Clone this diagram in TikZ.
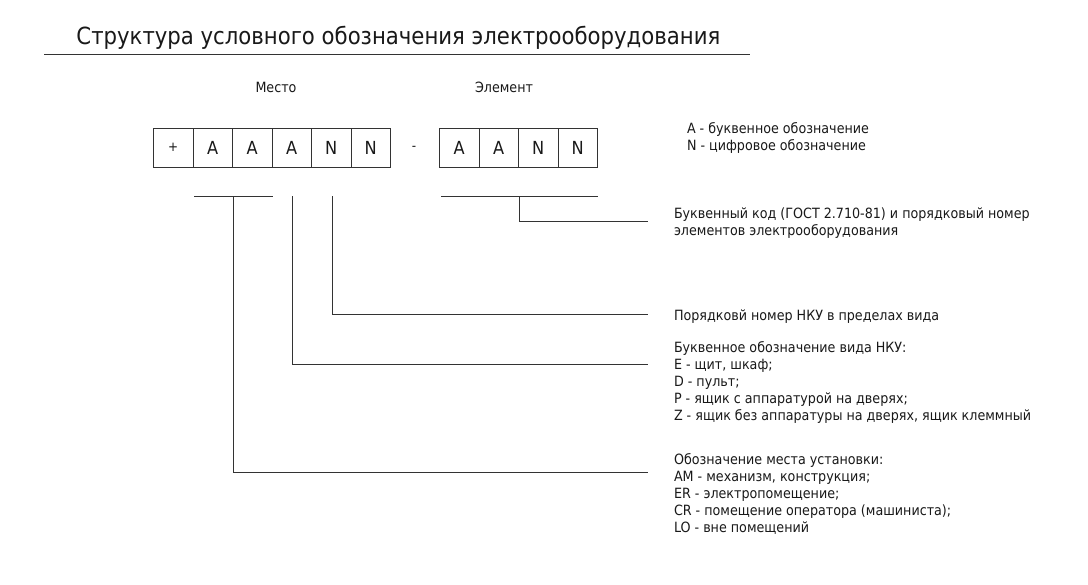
\documentclass[tikz,border=0pt]{standalone}
\usepackage{fontspec}
\setmainfont{DejaVu Sans Condensed}
\begin{document}
\begin{tikzpicture}[x=0.75pt,y=-0.75pt,
  every node/.style={inner sep=0pt,outer sep=0pt,text=black!90},
  cell/.style={draw=black!80,line width=0.75pt,minimum width=29.625pt,minimum height=29.25pt,font=\fontsize{13.5}{15}\selectfont},
  smallcell/.style={font=\fontsize{10}{12}\selectfont},
  body/.style={font=\fontsize{10.6}{12.75}\selectfont,align=left,anchor=base west},
  wire/.style={draw=black!80,line width=0.75pt}]
\useasboundingbox[fill=white] (0,0) rectangle (1088,585);
% title
\node[anchor=base,font=\fontsize{17.7}{22}\selectfont] (title) at (398.5,44.3) {Структура условного обозначения электрооборудования};
\coordinate (ul1) at (44,54.3);
\coordinate (ul2) at (750,54.3);
\draw[wire] (ul1) -- (ul2);
% headers
\node[font=\fontsize{10.6}{12}\selectfont] (hmesto) at (276,87) {Место};
\node[font=\fontsize{10.6}{12}\selectfont] (helem) at (504,87) {Элемент};
% cells
\node[cell,smallcell] (c1) at (173.25,147.8) {+};
\node[cell] (c2) at (212.75,147.8) {A};
\node[cell] (c3) at (252.25,147.8) {A};
\node[cell] (c4) at (291.75,147.8) {A};
\node[cell] (c5) at (331.25,147.8) {N};
\node[cell] (c6) at (370.75,147.8) {N};
\node[font=\fontsize{10}{12}\selectfont] (dash) at (414,148.5) {-};
\node[cell] (d1) at (459.25,147.8) {A};
\node[cell] (d2) at (498.75,147.8) {A};
\node[cell] (d3) at (538.25,147.8) {N};
\node[cell] (d4) at (577.75,147.8) {N};
% texts (y = baseline of last line)
\node[body] (legend) at (687,150) {A - буквенное обозначение\\N - цифровое обозначение};
\node[body] (telem) at (674,235) {Буквенный код (ГОСТ 2.710-81) и порядковый номер\\элементов электрооборудования};
\node[body] (tnum) at (674,320) {Порядковй номер НКУ в пределах вида};
\node[body] (tvid) at (674,420.5) {Буквенное обозначение вида НКУ:\\E - щит, шкаф;\\D - пульт;\\P - ящик с аппаратурой на дверях;\\Z - ящик без аппаратуры на дверях, ящик клеммный};
\node[body] (tmesto) at (674,532) {Обозначение места установки:\\AM - механизм, конструкция;\\ER - электропомещение;\\CR - помещение оператора (машиниста);\\LO - вне помещений};
% brackets and connectors
\coordinate (b1l) at (194,196);
\coordinate (b1r) at (272.7,196);
\coordinate (b1m) at (233.3,196);
\coordinate (b2l) at (441,196);
\coordinate (b2r) at (598.3,196);
\coordinate (b2m) at (519.3,196);
\coordinate (v4) at (292.7,196);
\coordinate (v5) at (332.3,196);
\coordinate (e1) at (647.7,221);
\coordinate (e2) at (647.7,314.3);
\coordinate (e3) at (647.7,364);
\coordinate (e4) at (647.7,472.3);
\draw[wire] (b1l) -- (b1r);
\draw[wire] (b2l) -- (b2r);
\draw[wire] (b2m) |- (e1);
\draw[wire] (v5) |- (e2);
\draw[wire] (v4) |- (e3);
\draw[wire] (b1m) |- (e4);
\end{tikzpicture}
\end{document}
